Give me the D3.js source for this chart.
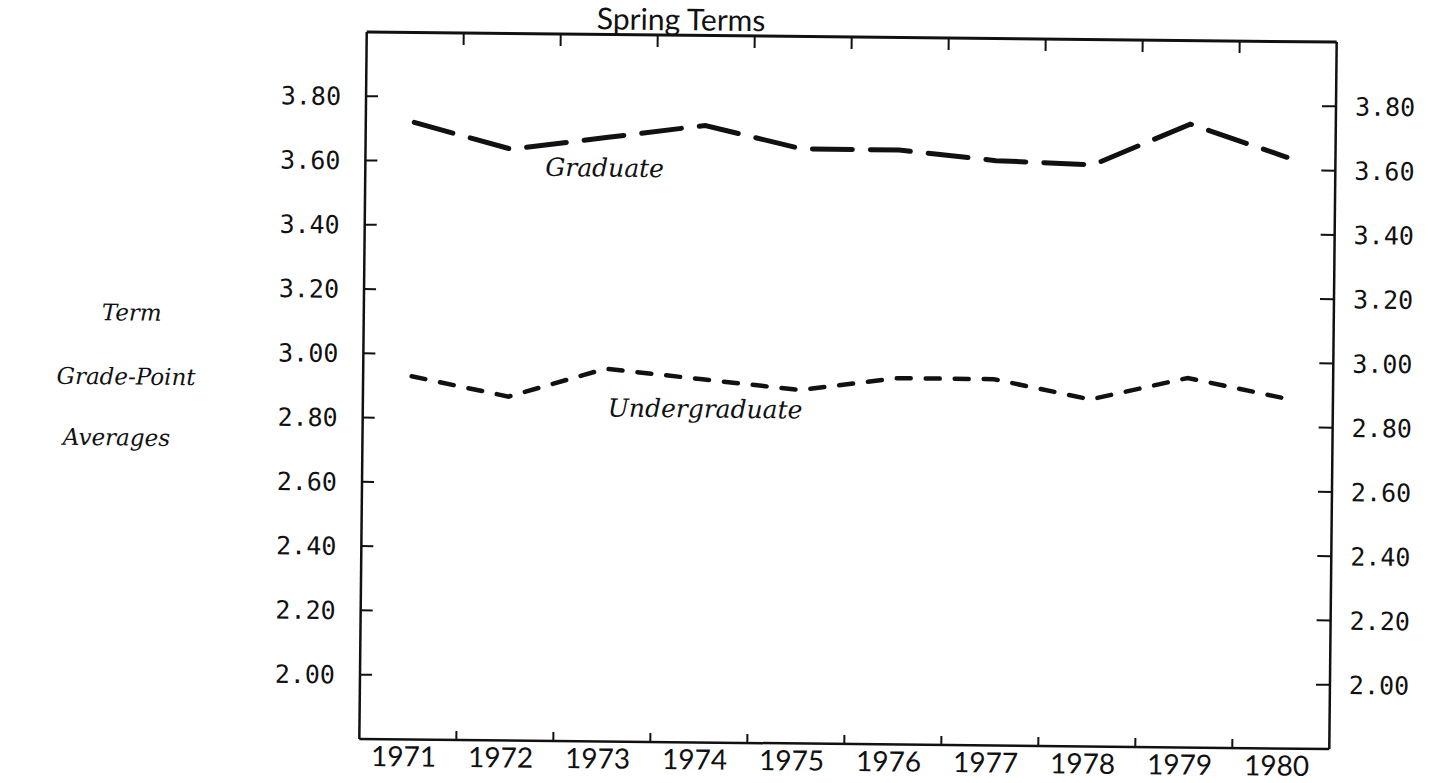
<!DOCTYPE html>
<html>
<head>
<meta charset="utf-8">
<script src="https://cdn.jsdelivr.net/npm/d3@7"></script>
<style>
  html, body { margin: 0; padding: 0; background: #fff; }
  svg { display: block; }
</style>
</head>
<body>
<svg id="chart" width="1434" height="783"></svg>
<script>
// ---- data ----
const years = [1971, 1972, 1973, 1974, 1975, 1976, 1977, 1978, 1979, 1980];
const graduate = [3.72, 3.64, 3.68, 3.72, 3.65, 3.65, 3.62, 3.61, 3.74, 3.64];
const undergraduate = [2.93, 2.87, 2.96, 2.93, 2.90, 2.94, 2.94, 2.88, 2.95, 2.89];
const yTicks = [2.00, 2.20, 2.40, 2.60, 2.80, 3.00, 3.20, 3.40, 3.60, 3.80];
const yTickLabels = ["2.00", "2.20", "2.40", "2.60", "2.80", "3.00", "3.20", "3.40", "3.60", "3.80"];
const titleText = "Spring Terms";
const yTitleLines = ["Term", "Grade-Point", "Averages"];
const seriesNames = ["Graduate", "Undergraduate"];

// ---- layout ----
const L = 363, R = 1333, T = 37, B = 744;
const svg = d3.select("#chart");
svg.append("rect").attr("width", 1434).attr("height", 783).attr("fill", "#fff");
const g = svg.append("g").attr("transform", "rotate(0.6, 848, 391)");

const x = d3.scaleBand().domain(years).range([L, R]);
const y = d3.scaleLinear().domain([1.8, 4.0]).range([B, T]);
const ink = "#111";

// frame
g.append("line").attr("x1", L).attr("x2", R).attr("y1", T).attr("y2", T)
  .attr("stroke", ink).attr("stroke-width", 3);
g.append("line").attr("x1", L).attr("x2", R).attr("y1", B).attr("y2", B)
  .attr("stroke", ink).attr("stroke-width", 2.5);
g.append("line").attr("x1", L).attr("x2", L).attr("y1", T).attr("y2", B)
  .attr("stroke", ink).attr("stroke-width", 2.5);
g.append("line").attr("x1", R).attr("x2", R).attr("y1", T).attr("y2", B)
  .attr("stroke", ink).attr("stroke-width", 2.5);

// x boundary ticks (top & bottom)
const bounds = years.slice(1);
g.selectAll(".tt").data(bounds).join("line")
  .attr("x1", d => x(d)).attr("x2", d => x(d))
  .attr("y1", T).attr("y2", T + 12)
  .attr("stroke", ink).attr("stroke-width", 2);
g.selectAll(".bt").data(bounds).join("line")
  .attr("x1", d => x(d)).attr("x2", d => x(d))
  .attr("y1", B).attr("y2", B - 9)
  .attr("stroke", ink).attr("stroke-width", 2);

// x labels
g.selectAll(".xl").data(years).join("text")
  .attr("x", d => x(d) + x.bandwidth() / 2 - 4)
  .attr("y", 771)
  .attr("text-anchor", "middle")
  .attr("font-family", "Lato, 'Open Sans', sans-serif")
  .attr("font-size", 28)
  .attr("fill", ink)
  .text(d => d);

// y ticks left & right
g.selectAll(".yl").data(yTicks).join("line")
  .attr("x1", L).attr("x2", L + 12)
  .attr("y1", d => y(d)).attr("y2", d => y(d))
  .attr("stroke", ink).attr("stroke-width", 2);
g.selectAll(".yr").data(yTicks).join("line")
  .attr("x1", R).attr("x2", R - 14)
  .attr("y1", d => y(d)).attr("y2", d => y(d))
  .attr("stroke", ink).attr("stroke-width", 2);

// y labels
g.selectAll(".ylt").data(yTicks).join("text")
  .attr("x", L - 25).attr("y", d => y(d)).attr("dy", "0.36em")
  .attr("text-anchor", "end")
  .attr("font-family", "'DejaVu Sans Mono', monospace")
  .attr("font-size", 25).attr("fill", ink)
  .text((d, i) => yTickLabels[i]);
g.selectAll(".yrt").data(yTicks).join("text")
  .attr("x", R + 19).attr("y", d => y(d)).attr("dy", "0.36em")
  .attr("text-anchor", "start")
  .attr("font-family", "'DejaVu Sans Mono', monospace")
  .attr("font-size", 25).attr("fill", ink)
  .text((d, i) => yTickLabels[i]);

// title
g.append("text").attr("x", 593).attr("y", 32)
  .attr("font-family", "Lato, 'Open Sans', sans-serif")
  .attr("font-size", 30).attr("fill", ink)
  .text(titleText);

// y title (italic)
const yTitlePos = [[131, 328], [126, 392], [117, 453]];
g.selectAll(".yt").data(yTitleLines).join("text")
  .attr("x", (d, i) => yTitlePos[i][0]).attr("y", (d, i) => yTitlePos[i][1])
  .attr("text-anchor", "middle")
  .attr("font-family", "'DejaVu Serif', serif")
  .attr("font-style", "italic")
  .attr("font-size", 23).attr("fill", ink)
  .text(d => d);

// lines
const line = d3.line()
  .x(d => x(d.year) + x.bandwidth() / 2)
  .y(d => y(d.v));
const gradData = years.map((yr, i) => ({ year: yr, v: graduate[i] }));
const ugData = years.map((yr, i) => ({ year: yr, v: undergraduate[i] }));

g.append("path").datum(gradData).attr("d", line)
  .attr("fill", "none").attr("stroke", ink).attr("stroke-width", 5)
  .attr("stroke-linecap", "round").attr("stroke-dasharray", "40,18");
g.append("path").datum(ugData).attr("d", line)
  .attr("fill", "none").attr("stroke", ink).attr("stroke-width", 4.5)
  .attr("stroke-linecap", "round").attr("stroke-dasharray", "14,15");

// series labels
g.append("text").attr("x", 543).attr("y", 179)
  .attr("font-family", "'DejaVu Serif', serif").attr("font-style", "italic")
  .attr("font-size", 25).attr("fill", ink).text(seriesNames[0]);
g.append("text").attr("x", 608).attr("y", 419)
  .attr("font-family", "'DejaVu Serif', serif").attr("font-style", "italic")
  .attr("font-size", 25).attr("fill", ink).text(seriesNames[1]);
</script>
</body>
</html>
